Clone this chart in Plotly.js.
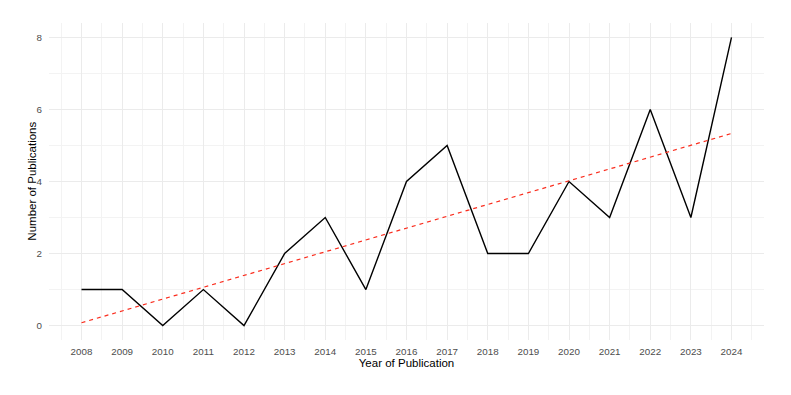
<!DOCTYPE html>
<html>
<head>
<meta charset="utf-8">
<script src="https://cdn.plot.ly/plotly-3.0.1.min.js"></script>
<style>
  html, body { margin: 0; padding: 0; background: #ffffff; }
  #chart { width: 791px; height: 395px; }
</style>
</head>
<body>
<div id="chart"></div>
<script>
// Publications per year
const years = [2008, 2009, 2010, 2011, 2012, 2013, 2014, 2015, 2016,
               2017, 2018, 2019, 2020, 2021, 2022, 2023, 2024];
const publications = [1, 1, 0, 1, 0, 2, 3, 1, 4, 5, 2, 2, 4, 3, 6, 3, 8];
const yTicks = [0, 2, 4, 6, 8];

// Ordinary least-squares trend over the yearly counts
function linearFit(xs, ys) {
  const n = xs.length;
  const mx = xs.reduce((a, b) => a + b, 0) / n;
  const my = ys.reduce((a, b) => a + b, 0) / n;
  let sxy = 0, sxx = 0;
  for (let i = 0; i < n; i++) {
    sxy += (xs[i] - mx) * (ys[i] - my);
    sxx += (xs[i] - mx) * (xs[i] - mx);
  }
  const slope = sxy / sxx;
  return x => my + slope * (x - mx);
}
const fit = linearFit(years, publications);
const trendX = [years[0], years[years.length - 1]];
const trendY = trendX.map(fit);

const FONT = 'Liberation Sans, Arial, Helvetica, sans-serif';

const traces = [
  {
    x: years, y: publications,
    type: 'scatter', mode: 'lines',
    line: { color: '#000000', width: 1.4 },
    hoverinfo: 'x+y'
  },
  {
    x: trendX, y: trendY,
    type: 'scatter', mode: 'lines',
    line: { color: '#fa2d1e', width: 1.2, dash: '4px,4px' },
    hoverinfo: 'skip'
  }
];

const layout = {
  width: 791, height: 395,
  margin: { l: 49, r: 27, t: 23, b: 55 },
  paper_bgcolor: '#ffffff', plot_bgcolor: '#ffffff',
  showlegend: false,
  font: { family: FONT, color: '#4d4d4d' },
  xaxis: {
    range: [2007.2, 2024.8],
    tickvals: years, ticktext: years.map(String),
    showgrid: true, gridcolor: '#ebebeb', gridwidth: 1,
    minor: { tick0: 2007.5, dtick: 1, showgrid: true, gridcolor: '#f3f3f3', gridwidth: 1 },
    zeroline: false, showline: false, ticks: '',
    ticklabelstandoff: 4,
    tickfont: { family: FONT, size: 9.8, color: '#4d4d4d' },
    title: { text: 'Year of Publication', standoff: 2,
             font: { family: FONT, size: 11.5, color: '#000000' } },
    automargin: false, fixedrange: true
  },
  yaxis: {
    range: [-0.4, 8.4],
    tickvals: yTicks, ticktext: yTicks.map(String),
    showgrid: true, gridcolor: '#ebebeb', gridwidth: 1,
    minor: { tick0: 1, dtick: 2, showgrid: true, gridcolor: '#f3f3f3', gridwidth: 1 },
    zeroline: false, showline: false, ticks: '',
    ticklabelstandoff: 6,
    tickfont: { family: FONT, size: 9.8, color: '#4d4d4d' },
    automargin: false, fixedrange: true
  },
  // Vertical axis title placed just left of the tick labels
  annotations: [{
    text: 'Number of Publications',
    xref: 'paper', yref: 'paper',
    x: -0.025, y: 0.5,
    xanchor: 'center', yanchor: 'middle',
    textangle: -90, showarrow: false,
    font: { family: FONT, size: 11.5, color: '#000000' }
  }]
};

Plotly.newPlot('chart', traces, layout, { displayModeBar: false, staticPlot: true });
</script>
</body>
</html>
